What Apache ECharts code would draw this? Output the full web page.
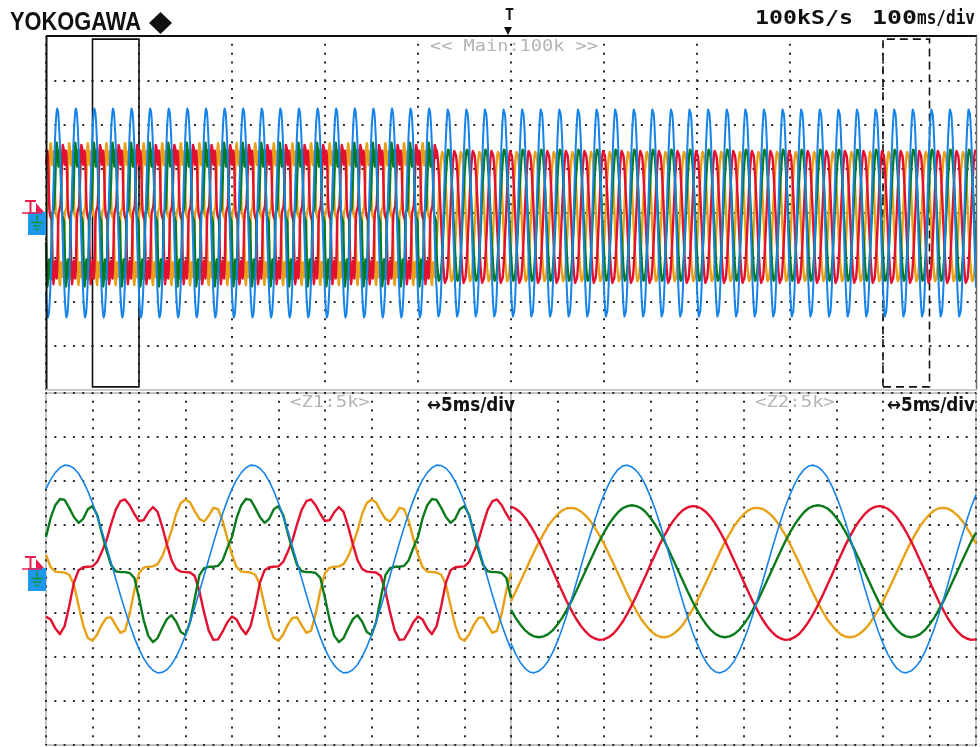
<!DOCTYPE html>
<html>
<head>
<meta charset="utf-8">
<script src="https://cdn.jsdelivr.net/npm/echarts@6/dist/echarts.min.js"></script>
<style>
  html, body { margin: 0; padding: 0; background: #fff; }
  #c { width: 980px; height: 747px; }
</style>
</head>
<body>
<div id="c"></div>
<script>
// ---- time base -------------------------------------------------------------
const STEP = 0.5;            // ms between stored samples
const PER = 40;              // samples per 20 ms mains cycle
const mainRange = [0, 1000]; // main record, ms (100 ms/div)
const z1Range = [50, 100];   // zoom window 1, ms (5 ms/div)
const z2Range = [900, 950];  // zoom window 2, ms (5 ms/div)
const switchTime = 420;      // ms, where the line currents change shape

// ---- one mains cycle per trace, in divisions, 0.5 ms apart ----------------
// before the change (cycle starting at the Z1 window start)
const z1Blue = [1.82, 2.03, 2.19, 2.30, 2.36, 2.35, 2.29, 2.17, 1.99, 1.77,
  1.50, 1.20, 0.87, 0.51, 0.15, -0.22, -0.59, -0.94, -1.26, -1.56,
  -1.82, -2.03, -2.19, -2.30, -2.36, -2.35, -2.29, -2.17, -1.99, -1.77,
  -1.50, -1.20, -0.87, -0.51, -0.15, 0.22, 0.59, 0.94, 1.26, 1.56];
const z1Green = [0.73, 1.16, 1.45, 1.59, 1.57, 1.39, 1.18, 1.05, 1.14, 1.36,
  1.43, 1.23, 0.82, 0.43, 0.09, -0.05, -0.07, -0.07, -0.09, -0.20,
  -0.66, -1.16, -1.52, -1.66, -1.57, -1.34, -1.14, -1.05, -1.20, -1.43,
  -1.50, -1.20, -0.66, -0.14, 0.02, 0.05, 0.05, 0.07, 0.20, 0.48];
const z1Red = [-1.08, -1.15, -1.35, -1.48, -1.30, -0.84, -0.31, -0.03, 0.04, 0.05,
  0.06, 0.16, 0.39, 0.65, 1.02, 1.35, 1.54, 1.58, 1.45, 1.25,
  1.09, 1.11, 1.29, 1.41, 1.30, 0.96, 0.56, 0.20, 0.00, -0.06,
  -0.07, -0.08, -0.16, -0.51, -0.99, -1.40, -1.61, -1.60, -1.42, -1.21];
const z1Orange = [0.32, 0.04, -0.06, -0.07, -0.08, -0.13, -0.35, -0.83, -1.28, -1.57,
  -1.63, -1.49, -1.27, -1.11, -1.10, -1.28, -1.45, -1.40, -1.02, -0.49,
  -0.09, 0.03, 0.05, 0.06, 0.11, 0.29, 0.56, 0.87, 1.26, 1.50,
  1.58, 1.51, 1.31, 1.14, 1.08, 1.21, 1.39, 1.36, 1.09, 0.69];
// after the change (cycle starting at the Z2 window start)
const z2Blue = [-1.69, -1.93, -2.12, -2.26, -2.34, -2.36, -2.32, -2.23, -2.09, -1.89,
  -1.64, -1.36, -1.04, -0.69, -0.33, 0.04, 0.41, 0.76, 1.10, 1.42,
  1.69, 1.93, 2.12, 2.26, 2.34, 2.36, 2.32, 2.23, 2.09, 1.89,
  1.64, 1.36, 1.04, 0.69, 0.33, -0.04, -0.41, -0.76, -1.10, -1.42];
const z2Green = [-0.93, -1.11, -1.26, -1.39, -1.48, -1.53, -1.55, -1.53, -1.48, -1.39,
  -1.26, -1.11, -0.93, -0.73, -0.51, -0.28, -0.05, 0.18, 0.41, 0.63,
  0.83, 1.01, 1.16, 1.29, 1.38, 1.43, 1.45, 1.43, 1.38, 1.29,
  1.16, 1.01, 0.83, 0.63, 0.41, 0.18, -0.05, -0.28, -0.51, -0.73];
const z2Red = [1.42, 1.37, 1.29, 1.17, 1.02, 0.84, 0.64, 0.42, 0.19, -0.04,
  -0.28, -0.51, -0.74, -0.94, -1.13, -1.29, -1.42, -1.52, -1.58, -1.61,
  -1.60, -1.55, -1.47, -1.35, -1.20, -1.02, -0.82, -0.60, -0.37, -0.14,
  0.10, 0.33, 0.56, 0.76, 0.95, 1.11, 1.24, 1.34, 1.40, 1.43];
const z2Orange = [-0.73, -0.51, -0.29, -0.06, 0.17, 0.40, 0.61, 0.80, 0.98, 1.12,
  1.24, 1.33, 1.38, 1.39, 1.37, 1.31, 1.22, 1.10, 0.94, 0.77,
  0.57, 0.35, 0.13, -0.10, -0.33, -0.56, -0.77, -0.96, -1.14, -1.28,
  -1.40, -1.49, -1.54, -1.55, -1.53, -1.47, -1.38, -1.26, -1.10, -0.93];

// ---- header / label texts --------------------------------------------------
const brandText = 'YOKOGAWA';
const rateText = '100kS/s';
const mainDivText = ['100', 'ms/div'];
const mainTag = '<< Main:100k >>';
const zoomTags = ['<Z1:5k>', '<Z2:5k>'];
const zoomDivText = '\u21945ms/div';

// ---- colours ---------------------------------------------------------------
const C = { blue: '#1683e8', green: '#0b7a1c', red: '#e3102f', orange: '#e6a116' };

// ---- building the traces ---------------------------------------------------
function cycleValue(tpl, t0, t) {
  const k = Math.round((t - t0) / STEP);
  return tpl[((k % PER) + PER) % PER];
}
function trace(before, after, from, to) {
  const out = [];
  const n = Math.round((to - from) / STEP);
  for (let i = 0; i <= n; i++) {
    const t = from + i * STEP;
    const v = t < switchTime ? cycleValue(before, z1Range[0], t) : cycleValue(after, z2Range[0], t);
    out.push([t, v]);
  }
  return out;
}

// ---- panel layout ----------------------------------------------------------
const P = {
  main: { left: 46, top: 36, width: 930, height: 354 },
  z1: { left: 46, top: 393, width: 465, height: 352 },
  z2: { left: 511, top: 393, width: 465, height: 352 }
};

const dotColor = '#2a2a2a';
function xAx(grid, range, interval, dash) {
  return {
    gridIndex: grid, type: 'value', min: range[0], max: range[1], interval: interval,
    axisLine: { show: false }, axisTick: { show: false }, axisLabel: { show: false },
    splitLine: { show: true, lineStyle: { color: dotColor, width: 2, type: dash, dashOffset: 1 } }
  };
}
function yAx(grid, dash) {
  return {
    gridIndex: grid, type: 'value', min: -4, max: 4, interval: 1,
    axisLine: { show: false }, axisTick: { show: false }, axisLabel: { show: false },
    splitLine: { show: true, lineStyle: { color: dotColor, width: 2, type: dash, dashOffset: 1 } }
  };
}

function lineSeries(name, data, color, width, ax, z) {
  return {
    name: name, type: 'line', xAxisIndex: ax, yAxisIndex: ax, data: data,
    symbol: 'none', showSymbol: false, animation: false, silent: true, z: z,
    lineStyle: { color: color, width: width, join: 'round' }
  };
}

const series = [];
const sets = [
  ['orange', z1Orange, z2Orange],
  ['red', z1Red, z2Red],
  ['green', z1Green, z2Green],
  ['blue', z1Blue, z2Blue]
];
sets.forEach(function (s, i) {
  const isBlue = s[0] === 'blue';
  series.push(lineSeries(s[0] + '-main', trace(s[1], s[2], mainRange[0], mainRange[1]), C[s[0]], isBlue ? 2 : 2.4, 0, 2 + i));
  series.push(lineSeries(s[0] + '-z1', trace(s[1], s[2], z1Range[0], z1Range[1]), C[s[0]], isBlue ? 1.6 : 2.4, 1, 2 + i));
  series.push(lineSeries(s[0] + '-z2', trace(s[1], s[2], z2Range[0], z2Range[1]), C[s[0]], isBlue ? 1.6 : 2.4, 2, 2 + i));
});
// zoom window frames on the main record
series.push({
  type: 'line', xAxisIndex: 0, yAxisIndex: 0, data: [], z: 20, silent: true,
  markArea: {
    silent: true,
    itemStyle: { color: 'rgba(0,0,0,0)', borderColor: '#111', borderWidth: 1.6 },
    data: [
      [{ xAxis: z1Range[0], yAxis: -3.93 }, { xAxis: z1Range[1], yAxis: 3.93 }],
      [{ xAxis: z2Range[0], yAxis: -3.93, itemStyle: { borderType: [8, 5] } }, { xAxis: z2Range[1], yAxis: 3.93 }]
    ]
  }
});

// ---- decorations (frames, channel markers, texts) -------------------------
const mctx = document.createElement('canvas').getContext('2d');
function fitScale(text, font, w) { mctx.font = font; return w / mctx.measureText(text).width; }
function txt(x, y, text, font, fill, width, align) {
  return {
    type: 'text', x: x, y: y, z: 100,
    scaleX: width ? fitScale(text, font, width) : 1,
    style: { text: text, font: font, fill: fill, textAlign: align || 'left', textVerticalAlign: 'middle',
             align: align || 'left', verticalAlign: 'middle' }
  };
}
function seg(x1, y1, x2, y2, color, w, z) {
  return { type: 'line', z: z || 100, shape: { x1: x1, y1: y1, x2: x2, y2: y2 }, style: { stroke: color, lineWidth: w } };
}
function channelMarker(cy) {
  const red = '#ec1d4d';
  const grn = '#13963a';
  return [
    { type: 'rect', z: 100, shape: { x: 28, y: cy - 1, width: 18, height: 23 }, style: { fill: '#1c98ec' } },
    seg(22, cy, 42, cy, red, 1.5, 101),
    seg(25, cy - 12, 36, cy - 12, red, 2, 101),
    seg(30.5, cy - 12, 30.5, cy, red, 2, 101),
    { type: 'polygon', z: 101, shape: { points: [[36, cy - 10], [44, cy - 1], [36, cy - 1]] }, style: { fill: red } },
    seg(37, cy + 2, 37, cy + 9, grn, 1.5, 102),
    seg(31, cy + 9.5, 43, cy + 9.5, grn, 1.5, 102),
    seg(33, cy + 13, 41, cy + 13, grn, 1.5, 102),
    seg(35, cy + 16.5, 39, cy + 16.5, grn, 1.5, 102)
  ];
}

const mono = "'DejaVu Sans Mono', 'Liberation Mono', monospace";
const graphics = [
  // main panel frame
  seg(46, 36, 977, 36, '#111', 2),
  seg(46.5, 36, 46.5, 390, '#111', 2),
  seg(976.5, 36, 976.5, 390, '#6d6d6d', 1.5),
  seg(46, 390, 977, 390, '#c9c9c9', 2),
  // brand + run settings
  txt(10, 23, brandText, "bold 25px 'Liberation Sans', Arial, sans-serif", '#111', 131),
  { type: 'polygon', z: 100, shape: { points: [[149, 23], [160.5, 12], [172, 23], [160.5, 34]] }, style: { fill: '#111' } },
  txt(755, 19, rateText, 'bold 19px ' + mono, '#111', 98),
  txt(872, 19, mainDivText[0], 'bold 19px ' + mono, '#111', 45),
  txt(917, 19, mainDivText[1], 'bold 19px ' + mono, '#111', 58),
  // trigger position mark
  txt(505, 16, 'T', 'bold 15px ' + mono, '#111'),
  { type: 'polygon', z: 100, shape: { points: [[504, 27], [512, 27], [508, 35]] }, style: { fill: '#111' } },
  // window tags
  txt(514, 47, mainTag, '16px ' + mono, '#b4b4b4', 168, 'center'),
  txt(290, 403, zoomTags[0], '15px ' + mono, '#b4b4b4', 80),
  txt(427, 406, zoomDivText, "bold 19px 'DejaVu Sans', sans-serif", '#111', 88),
  txt(755, 403, zoomTags[1], '15px ' + mono, '#b4b4b4', 80),
  txt(887, 406, zoomDivText, "bold 19px 'DejaVu Sans', sans-serif", '#111', 88)
].concat(channelMarker(213), channelMarker(569));

const option = {
  backgroundColor: '#ffffff',
  animation: false,
  grid: [
    Object.assign({ show: false, containLabel: false }, P.main),
    Object.assign({ show: true, borderColor: '#c6c6c6', borderWidth: 2, backgroundColor: 'transparent' }, P.z1),
    Object.assign({ show: true, borderColor: '#c6c6c6', borderWidth: 2, backgroundColor: 'transparent' }, P.z2)
  ],
  xAxis: [
    xAx(0, mainRange, 100, [2, 6.85]),
    xAx(1, z1Range, 5, [2, 6.8]),
    xAx(2, z2Range, 5, [2, 6.8])
  ],
  yAxis: [
    yAx(0, [2, 7.31]),
    yAx(1, [2, 7.3]),
    yAx(2, [2, 7.3])
  ],
  series: series,
  graphic: { elements: graphics }
};

const chart = echarts.init(document.getElementById('c'), null, { renderer: 'canvas', width: 980, height: 747 });
chart.setOption(option);
</script>
</body>
</html>
